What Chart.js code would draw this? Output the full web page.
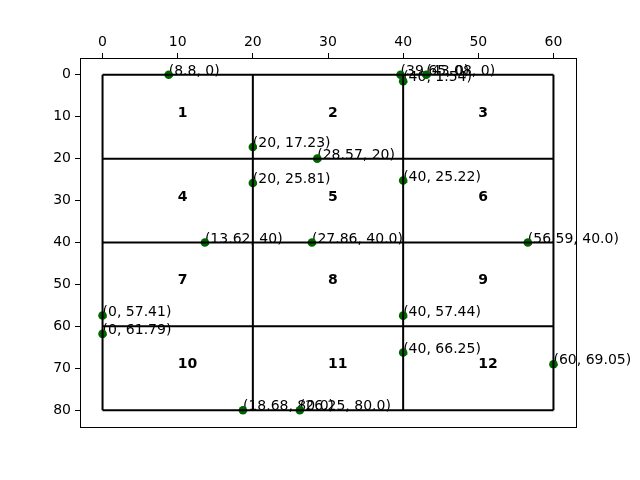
<!DOCTYPE html>
<html>
<head>
<meta charset="utf-8">
<script src="https://cdn.jsdelivr.net/npm/chart.js@4"></script>
<style>
  html, body { margin: 0; padding: 0; background: #fff; }
  #wrap { width: 640px; height: 480px; }
</style>
</head>
<body>
<div id="wrap"><canvas id="chart" width="640" height="480"></canvas></div>
<script>
// grid of cells
const gridXs = [0, 20, 40, 60]
const gridYs = [0, 20, 40, 60, 80]
const cellNames = ["1", "2", "3", "4", "5", "6", "7", "8", "9", "10", "11", "12"]
const cellX = [10, 30, 50, 10, 30, 50, 10, 30, 50, 10, 30, 50]
const cellY = [10, 10, 10, 30, 30, 30, 50, 50, 50, 70, 70, 70]

// intersection points
const pointX = [8.8, 39.65, 43.08, 40, 20, 28.57, 20, 40, 13.62, 27.86, 56.59, 0, 0, 40, 40, 60, 18.68, 26.25]
const pointY = [0, 0, 0, 1.54, 17.23, 20, 25.81, 25.22, 40, 40, 40, 57.41, 61.79, 57.44, 66.25, 69.05, 80, 80]
const pointLabels = ["(8.8, 0)", "(39.65, 0)", "(43.08, 0)", "(40, 1.54)", "(20, 17.23)", "(28.57, 20)",
    "(20, 25.81)", "(40, 25.22)", "(13.62, 40)", "(27.86, 40.0)", "(56.59, 40.0)", "(0, 57.41)",
    "(0, 61.79)", "(40, 57.44)", "(40, 66.25)", "(60, 69.05)", "(18.68, 80.0)", "(26.25, 80.0)"]

const xTicks = [0, 10, 20, 30, 40, 50, 60]
const yTicks = [0, 10, 20, 30, 40, 50, 60, 70, 80]

const FONT = "'DejaVu Sans', sans-serif"

const lineData = []
gridXs.forEach(x => {
    lineData.push({ x: x, y: gridYs[0] }, { x: x, y: gridYs[gridYs.length - 1] }, { x: x, y: NaN })
})
gridYs.forEach(y => {
    lineData.push({ x: gridXs[0], y: y }, { x: gridXs[gridXs.length - 1], y: y }, { x: NaN, y: y })
})

const pts = pointX.map((x, i) => ({ x: x, y: pointY[i] }))

const textPlugin = {
    id: "texts",
    beforeDatasetsDraw(chart) {
        const ctx = chart.ctx
        const xs = chart.scales.x
        const ys = chart.scales.y
        ctx.save()
        ctx.fillStyle = "#000"
        ctx.textAlign = "left"
        ctx.textBaseline = "alphabetic"
        ctx.font = "bold 14px " + FONT
        cellNames.forEach((t, i) => {
            ctx.fillText(t, xs.getPixelForValue(cellX[i]), ys.getPixelForValue(cellY[i]))
        })
        ctx.font = "14px " + FONT
        pointLabels.forEach((t, i) => {
            ctx.fillText(t, xs.getPixelForValue(pointX[i]), ys.getPixelForValue(pointY[i]))
        })
        ctx.restore()
    },
    afterDraw(chart) {
        const a = chart.chartArea
        const ctx = chart.ctx
        ctx.save()
        ctx.strokeStyle = "#000"
        ctx.lineWidth = 1
        ctx.strokeRect(Math.round(a.left) + 0.5, Math.round(a.top) + 0.5,
            Math.round(a.right - a.left), Math.round(a.bottom - a.top))
        ctx.restore()
    }
}

new Chart(document.getElementById("chart"), {
    type: "scatter",
    data: {
        datasets: [
            {
                data: lineData,
                showLine: true,
                spanGaps: false,
                borderColor: "#000",
                borderWidth: 2,
                pointRadius: 0,
                order: 1
            },
            {
                data: pts,
                backgroundColor: "#006400",
                borderColor: "#006400",
                pointRadius: 4.3,
                borderWidth: 0,
                order: 2
            }
        ]
    },
    options: {
        responsive: false,
        animation: false,
        clip: false,
        layout: { padding: { left: 0, top: 0, right: 64, bottom: 53 } },
        plugins: { legend: { display: false }, tooltip: { enabled: false } },
        scales: {
            x: {
                type: "linear",
                position: "top",
                min: -3,
                max: 63,
                afterBuildTicks: s => { s.ticks = xTicks.map(v => ({ value: v })) },
                afterFit: s => { s.height = 58 },
                grid: { drawOnChartArea: false, drawTicks: true, tickLength: 5, tickColor: "#000", tickWidth: 1 },
                border: { display: false },
                ticks: { color: "#000", font: { family: FONT, size: 14 }, padding: 2, maxRotation: 0 }
            },
            y: {
                type: "linear",
                reverse: true,
                min: -4,
                max: 84,
                afterBuildTicks: s => { s.ticks = yTicks.map(v => ({ value: v })) },
                afterFit: s => { s.width = 80 },
                grid: { drawOnChartArea: false, drawTicks: true, tickLength: 5, tickColor: "#000", tickWidth: 1 },
                border: { display: false },
                ticks: { color: "#000", font: { family: FONT, size: 14 }, padding: 4 }
            }
        }
    },
    plugins: [textPlugin]
})
</script>
</body>
</html>
